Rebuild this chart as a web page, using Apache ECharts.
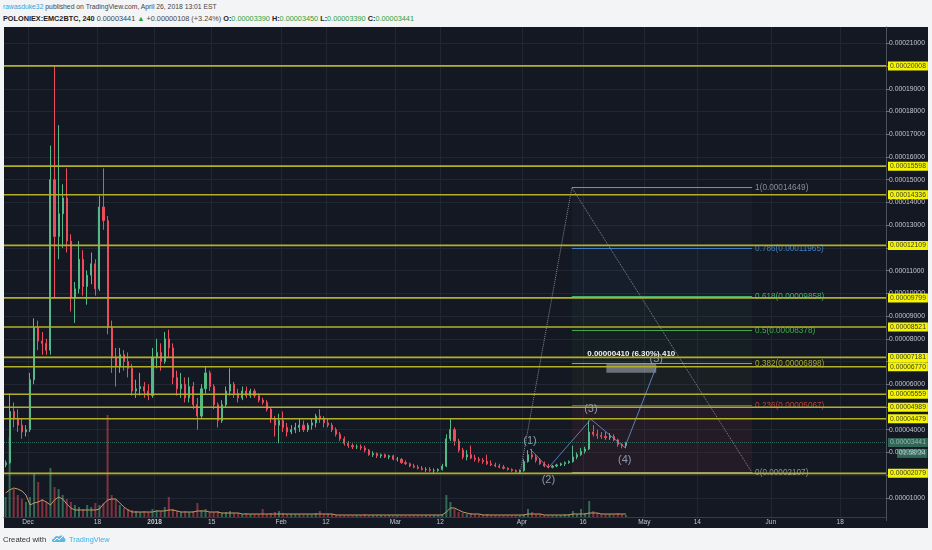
<!DOCTYPE html>
<html><head><meta charset="utf-8">
<script src="https://cdn.jsdelivr.net/npm/echarts@6/dist/echarts.min.js"></script>
<style>
html,body{margin:0;padding:0;background:#f3f4f6;}
#wrap{position:relative;width:932px;height:550px;background:#f3f4f6;overflow:hidden;font-family:Arial,'Liberation Sans',sans-serif;}
#panel{position:absolute;left:4px;top:27px;width:924px;height:501px;background:#141823;}
#c{position:absolute;left:0;top:0;width:932px;height:550px;}
.h{position:absolute;left:3px;white-space:nowrap;font-size:6.8px;color:#444;}
.g{color:#2e9e3e}
.b{font-weight:bold;color:#222}
</style>
</head><body>
<div id="wrap">
  <div class="h" style="top:3px"><span style="color:#3aa2d8">rawasduke32</span> published on TradingView.com, April 26, 2018 13:01 EST</div>
  <div class="h" style="top:13.5px;font-size:7.3px"><span class="b">POLONIEX:EMC2BTC, 240</span> 0.00003441 <span class="g">▲</span> +0.00000108 (+3.24%) <span class="b">O:</span><span class="g">0.00003390</span> <span class="b">H:</span><span class="g">0.00003450</span> <span class="b">L:</span><span class="g">0.00003390</span> <span class="b">C:</span><span class="g">0.00003441</span></div>
  <div id="panel"></div>
  <div id="c"></div>
  <div class="h" style="top:535px;left:3px;font-size:7.7px;color:#333">Created with</div>
  <svg style="position:absolute;left:52px;top:534px" width="14" height="9" viewBox="0 0 14 9"><path d="M1,8 C-1,8 0,4 2,5 C2,2 6,1 7,3 C8,1 12,1 12,4 C14,4 14,8 12,8 Z" fill="#58b8ea"/><path d="M2,7 L5,4 L7,6 L11,2" stroke="#fff" stroke-width="1" fill="none"/></svg>
  <div class="h" style="top:535px;left:69px;font-size:7.4px;color:#3bb0e8">TradingView</div>
</div>
<script>
// ---------- data (prices in satoshi, 1e-8 BTC) ----------
const DAY = 864e5;
const startDay = Date.UTC(2017, 10, 25); // first daily candle
const opens = [
 2450,2550,4800,4500,4200,3900,
 4000,6200,8500,7900,7800,7500,15000,12500,13500,14200,12300,9800,10200,11500,10300,10800,11300,10200,13800,13200,8500,7200,6800,7300,7000,6700,5700,5800,5900,5700,5500,
 7200,7400,7000,8000,7600,6300,5800,6000,5400,5900,5100,4600,5800,6500,5900,5100,4400,5100,5700,6000,5600,5400,5700,5500,5700,5500,5300,5200,4900,4500,4200,
 4400,4100,3900,4000,4100,4200,4000,4200,4300,4600,4500,4300,4200,4000,3800,3600,3400,3300,3250,3250,3200,3100,2900,2950,2850,2900,2800,2850,
 2700,2700,2550,2500,2400,2350,2300,2250,2250,2200,2200,2250,2400,3600,4000,3500,3100,2800,2900,2750,2700,2650,2600,2500,2450,2400,2350,2300,2250,2200,2150,
 2200,2600,2900,2800,2650,2500,2400,2350,2400,2450,2500,2550,2600,2800,2900,3050,3150,3900,3800,3750,3700,3650,3700,3550,3350,3300
];
const highs = [
 2650,5600,5200,4900,4500,4200,
 6500,8900,8800,8300,8000,16500,20000,17400,14800,15500,12600,10500,12300,11900,11000,11800,11500,14300,15500,13400,8800,7600,7600,7500,7400,6900,6200,6500,6100,6000,7600,
 8000,7800,8300,8400,7800,6600,6500,6300,6300,6100,5400,6000,6800,6600,6000,5200,5300,5900,6700,6100,5800,5900,5900,5800,5800,5600,5400,5300,5000,4600,4700,
 4800,4300,4200,4300,4500,4400,4300,4500,4700,4900,4600,4500,4300,4100,3900,3700,3500,3400,3350,3350,3300,3150,3050,3000,2950,2950,2900,2900,
 2800,2750,2650,2550,2500,2450,2400,2350,2350,2300,2300,2500,3800,4500,4100,3600,3200,3100,3300,2900,2800,2750,2900,2650,2550,2500,2450,2350,2300,2250,2250,
 2700,3100,3150,2900,2750,2600,2500,2450,2500,2550,2600,2650,3300,3000,3200,3250,4400,4200,4000,3900,3900,3850,3800,3600,3400,3450
];
const lows = [
 2350,2500,4100,3900,3600,3700,
 3900,6000,7500,7300,7300,7300,9800,11500,12000,11800,9200,8700,10000,9900,9500,10400,9900,10100,12800,8200,6500,5900,6500,6600,6300,5500,5400,5500,5400,5300,5400,
 6700,6600,6900,7200,6000,5500,5400,5200,5200,4900,4000,4500,5600,5700,4900,4100,4300,5000,5500,5400,5200,5300,5400,5400,5400,5200,5100,4800,4300,3700,3400,
 3900,3700,3800,3850,3900,3900,3900,4000,4100,4300,4100,4100,3900,3700,3500,3300,3200,3150,3150,3100,3000,2850,2800,2750,2750,2750,2700,2650,
 2600,2500,2450,2350,2300,2250,2200,2150,2150,2100,2150,2200,2350,3500,3300,3000,2700,2650,2700,2600,2550,2500,2450,2400,2350,2300,2250,2200,2150,2110,2100,
 2150,2550,2700,2550,2450,2350,2300,2300,2350,2400,2400,2500,2550,2700,2850,2950,3100,3700,3600,3600,3550,3550,3500,3250,3180,3180
];
const closes = [
 2550,4800,4500,4200,3900,4000,
 6200,8500,7900,7800,7500,15000,12500,13500,14200,12300,9800,10200,11500,10300,10800,11300,10200,13800,13200,8500,7200,6800,7300,7000,6700,5700,5800,5900,5700,5500,7200,
 7400,7000,8000,7600,6300,5800,6000,5400,5900,5100,4600,5800,6500,5900,5100,4400,5100,5700,6000,5600,5400,5700,5500,5700,5500,5300,5200,4900,4500,4200,4400,
 4100,3900,4000,4100,4200,4000,4200,4300,4600,4500,4300,4200,4000,3800,3600,3400,3300,3250,3250,3200,3100,2900,2950,2850,2900,2800,2850,2700,
 2700,2550,2500,2400,2350,2300,2250,2250,2200,2200,2250,2400,3600,4000,3500,3100,2800,2900,2750,2700,2650,2600,2500,2450,2400,2350,2300,2250,2200,2150,2200,
 2600,2900,2800,2650,2500,2400,2350,2400,2450,2500,2550,2600,2800,2900,3050,3150,3900,3800,3750,3700,3650,3700,3550,3350,3300,3441
];
const volumes = [
 20,80,28,22,18,15,
 20,44,35,18,15,49,30,28,22,18,15,12,10,8,12,10,14,12,14,102,22,18,12,9,8,7,6,5,6,5,8,
 7,6,10,20,8,6,5,6,5,6,14,7,8,5,5,6,4,5,6,4,4,3,4,3,3,3,8,3,4,5,6,
 4,3,3,3,3,3,3,3,4,6,3,3,3,2,2,2,2,2,2,2,3,2,2,2,2,2,2,2,
 2,2,2,2,2,2,2,2,2,2,2,3,22,15,8,5,4,3,4,3,2,2,3,2,2,2,2,2,2,2,2,
 3,8,5,3,3,2,2,2,2,2,3,3,6,3,8,4,16,6,4,3,3,3,3,4,3,2
];
const volumeMA = [
 24,27,29,28,26,22,
 12,14,15,17,15,12,17,20,18,13,9,7,7,7,7,7,7,8,13,17,18,18,14,10,7,5,5,5,5,5,5,
 6,6,6,7,7,6,5,5,5,5,6,6,6,5,5,5,4,4,4,4,4,3,3,3,3,3,3,3,3,3,3,
 3,3,3,3,3,3,3,3,3,3,3,3,3,2,2,2,2,2,2,2,2,2,2,2,2,2,2,2,
 2,2,2,2,2,2,2,2,2,2,2,2,5,9,9,7,5,4,3,3,3,2,2,2,2,2,2,2,2,2,2,
 2,3,3,3,3,2,2,2,2,2,2,2,3,3,3,3,4,4,4,3,3,3,3,3,3,3
];
const tickDates = ['2017-12-01','2017-12-18','2018-01-01','2018-01-15','2018-02-01','2018-02-12','2018-03-01','2018-03-12','2018-04-01','2018-04-16','2018-05-01','2018-05-14','2018-06-01','2018-06-18'];
const tickLabels = ['Dec','18','2018','15','Feb','12','Mar','12','Apr','16','May','14','Jun','18'];
const levelPrices = [20008,15598,14336,12109,9799,8521,7181,6770,5559,4989,4479,2079];
const lastPrice = 3441;
const countdown = '01:58:34';
const fibRatios = ['1','0.786','0.618','0.5','0.382','0.236','0'];
const fibPrices = [14649,11965,9858,8378,6898,5067,2107];
const fibSpan = ['2018-04-13T06:00Z','2018-05-27T10:00Z'];
const trendTimes = ['2018-03-31T14:00Z','2018-04-13T06:00Z','2018-05-27T10:00Z'];
const trendPrices = [2107,14649,2107];
const waveNames = ['(1)','(2)','(3)','(4)','(5)'];
const waveTimes = ['2018-04-03T00:00Z','2018-04-07T12:00Z','2018-04-17T22:00Z','2018-04-26T05:00Z','2018-05-03T22:00Z'];
const wavePrices = [3150,2320,4460,3220,6760];
const measureTimes = ['2018-04-21T17:00Z','2018-05-03T22:00Z'];
const measurePrices = [6508,6918];
const measureText = '0.00000410 (6.30%) 410';

// ---------- styles ----------
const FONT = "Arial, 'Liberation Sans', sans-serif";
const UP = '#53b987', DN = '#eb4d5c', TEAL = '#4fb58c';
const UPV = 'rgba(83,185,135,0.5)', DNV = 'rgba(235,77,92,0.5)';
const GRID = '#212633', LBL = '#c3c6ce', LEVEL = '#b2b02a';
const fibColors = ['#8a8d96','#3d80c8','#3fae6a','#42a845','#a3a833','#b8403e','#8a8d96'];
const fibFills = ['rgba(120,120,140,0.05)','rgba(60,128,200,0.06)','rgba(63,174,106,0.06)','rgba(66,168,69,0.06)','rgba(163,168,51,0.05)','rgba(184,64,62,0.09)'];
const xMin = Date.UTC(2017, 11, 1) - 5.88 * DAY;
const xMax = Date.UTC(2017, 11, 1) + 210.22 * DAY;

const T = s => Date.parse(s);
const fmt = v => (v / 1e8).toFixed(8);
const crisp = y => Math.round(y - 0.5) + 0.5;
const dates = opens.map((_, i) => startDay + i * DAY + DAY / 2);
const candleData = dates.map((t, i) => [t, opens[i], closes[i], lows[i], highs[i]]);
const volData = dates.map((t, i) => ({ value: [t, volumes[i]], itemStyle: { color: closes[i] >= opens[i] ? UPV : DNV } }));
const maData = dates.map((t, i) => [t, volumeMA[i]]);
const tickTimes = tickDates.map(T);
const f0 = T(fibSpan[0]), f1 = T(fibSpan[1]);

const priceLine = [{
  yAxis: lastPrice,
  lineStyle: { color: TEAL, width: 1, type: 'dotted', opacity: 0.5 },
  label: {
    show: true, position: 'end', distance: 2,
    formatter: '{p|' + fmt(lastPrice) + '}\n{s| }{t|' + countdown + '}',
    offset: [0, 5.5],
    rich: {
      p: { backgroundColor: TEAL, color: '#fff', padding: [1, 2], fontSize: 6.8, lineHeight: 11, fontFamily: FONT },
      s: { width: 9, fontSize: 6.8, lineHeight: 11 },
      t: { backgroundColor: TEAL, color: '#fff', padding: [1, 2], fontSize: 6.8, lineHeight: 11, fontFamily: FONT }
    }
  }
}];

const fibAreas = fibPrices.slice(0, -1).map((p, i) => [
  { coord: [f0, fibPrices[i + 1]], itemStyle: { color: fibFills[i] } },
  { coord: [f1, p] }
]);
fibAreas.push([
  { coord: [T(measureTimes[0]), measurePrices[0]], itemStyle: { color: 'rgba(175,181,190,0.55)' },
    label: { show: true, position: 'top', distance: 6, formatter: measureText, color: '#f0f0f0', fontWeight: 'bold', fontSize: 8, fontFamily: FONT } },
  { coord: [T(measureTimes[1]), measurePrices[1]] }
]);

const waveLabelPos = [['top', 2], ['bottom', 6], ['top', 4], ['bottom', 7], ['top', 2]];
const waveLine = waveTimes.map((t, i) => [T(t), wavePrices[i]]);
const waveLabels = waveTimes.map((t, i) => ({
  value: [T(t), wavePrices[i]],
  label: { show: true, formatter: waveNames[i], position: waveLabelPos[i][0], distance: waveLabelPos[i][1] }
}));
const trendLine = trendTimes.map((t, i) => [T(t), trendPrices[i]]);

// horizontal support/resistance levels drawn across the whole grid with axis label boxes
function renderLevel(params, api) {
  const p = api.value(1);
  const cs = params.coordSys;
  const y = api.coord([xMin, p])[1];
  const x1 = cs.x + cs.width;
  return { type: 'group', children: [
    { type: 'line', shape: { x1: cs.x, y1: y, x2: x1, y2: y }, style: { stroke: LEVEL, lineWidth: 1.6 } },
    { type: 'text', x: x1 + 2, y: y, z2: 10,
      style: { text: fmt(p), fill: '#3a3a3a', backgroundColor: '#f5f500', padding: [1, 2, 1, 2],
               fontSize: 6.8, fontFamily: FONT, align: 'left', verticalAlign: 'middle' } }
  ] };
}
// fibonacci retracement level segments with labels
function renderFib(params, api) {
  const i = api.value(3);
  const a = api.coord([api.value(0), api.value(1)]);
  const b = api.coord([api.value(2), api.value(1)]);
  const y = crisp(a[1]);
  return { type: 'group', children: [
    { type: 'line', shape: { x1: a[0], y1: y, x2: b[0], y2: y }, style: { stroke: fibColors[i], lineWidth: 1 } },
    { type: 'text', x: b[0] + 3, y: y,
      style: { text: fibRatios[i] + '(' + fmt(api.value(1)) + ')', fill: fibColors[i],
               fontSize: 8.2, fontFamily: FONT, align: 'left', verticalAlign: 'middle' } }
  ] };
}

const chart = echarts.init(document.getElementById('c'));
chart.setOption({
  animation: false,
  textStyle: { fontFamily: FONT },
  grid: [
    { left: 4, right: 46, top: 27, bottom: 29.4 },
    { left: 4, right: 46, top: 27, bottom: 33 }
  ],
  xAxis: [
    { type: 'value', gridIndex: 0, min: xMin, max: xMax, scale: true,
      axisLine: { show: false }, axisTick: { show: false, customValues: tickTimes },
      axisLabel: { show: false, customValues: tickTimes },
      splitLine: { show: true, lineStyle: { color: GRID, width: 1 } } },
    { type: 'value', gridIndex: 1, min: xMin, max: xMax, scale: true,
      axisLine: { show: true, lineStyle: { color: '#373b47' } },
      axisTick: { show: false, customValues: tickTimes },
      splitLine: { show: false },
      axisLabel: { customValues: tickTimes, fontSize: 6.5, color: LBL, margin: 2, fontFamily: FONT,
        formatter: v => { const i = tickTimes.indexOf(v); const s = i >= 0 ? tickLabels[i] : ''; return /^\d{4}$/.test(s) ? '{b|' + s + '}' : s; },
        rich: { b: { fontWeight: 'bold', fontSize: 6.5, color: LBL, fontFamily: FONT } } } }
  ],
  yAxis: [
    { type: 'value', gridIndex: 0, position: 'right', min: 0, max: 21720, interval: 1000,
      axisLine: { show: true, lineStyle: { color: '#4a4f5c' } },
      axisTick: { show: true, length: 3, lineStyle: { color: '#6a6e7a' } },
      axisLabel: { fontSize: 6.8, color: LBL, margin: 3, fontFamily: FONT, formatter: fmt, showMinLabel: false, showMaxLabel: false },
      splitLine: { show: true, showMinLine: false, showMaxLine: false, lineStyle: { color: GRID, width: 1 } } },
    { type: 'value', gridIndex: 1, min: 0, max: 490, show: false }
  ],
  series: [
    { type: 'bar', xAxisIndex: 1, yAxisIndex: 1, data: volData, barWidth: 2, z: 1, silent: true },
    { type: 'line', xAxisIndex: 1, yAxisIndex: 1, data: maData, symbol: 'none', silent: true, z: 1,
      lineStyle: { color: '#c99a62', width: 1 } },
    { type: 'line', xAxisIndex: 0, yAxisIndex: 0, data: [], silent: true, z: 2,
      markArea: { silent: true, label: { show: false }, data: fibAreas },
      markLine: { silent: true, symbol: ['none', 'none'], data: priceLine } },
    { type: 'custom', xAxisIndex: 0, yAxisIndex: 0, clip: false, silent: true, z: 2,
      data: fibPrices.map((p, i) => [f0, p, f1, i]), encode: { x: [0, 2], y: 1 }, renderItem: renderFib },
    { type: 'custom', xAxisIndex: 0, yAxisIndex: 0, clip: false, silent: true, z: 6,
      data: levelPrices.map(p => [xMin, p]), encode: { x: 0, y: 1 }, renderItem: renderLevel },
    { type: 'candlestick', xAxisIndex: 0, yAxisIndex: 0, data: candleData, encode: { x: 0, y: [1, 2, 3, 4] },
      barWidth: 1.6, silent: true, z: 3,
      itemStyle: { color: UP, color0: DN, borderColor: UP, borderColor0: DN, borderWidth: 1 } },
    { type: 'line', xAxisIndex: 0, yAxisIndex: 0, data: trendLine, symbol: 'none', silent: true, z: 4,
      lineStyle: { color: 'rgba(150,154,164,0.85)', width: 1, type: 'dotted' } },
    { type: 'line', xAxisIndex: 0, yAxisIndex: 0, data: waveLine, symbol: 'none', silent: true, z: 4,
      lineStyle: { color: 'rgba(110,150,220,0.8)', width: 1 } },
    { type: 'scatter', xAxisIndex: 0, yAxisIndex: 0, data: waveLabels, symbolSize: 1, silent: true, z: 5,
      itemStyle: { color: 'rgba(0,0,0,0)' },
      label: { color: '#a9b6d0', fontSize: 11, fontFamily: FONT } }
  ]
});
</script>
</body></html>
